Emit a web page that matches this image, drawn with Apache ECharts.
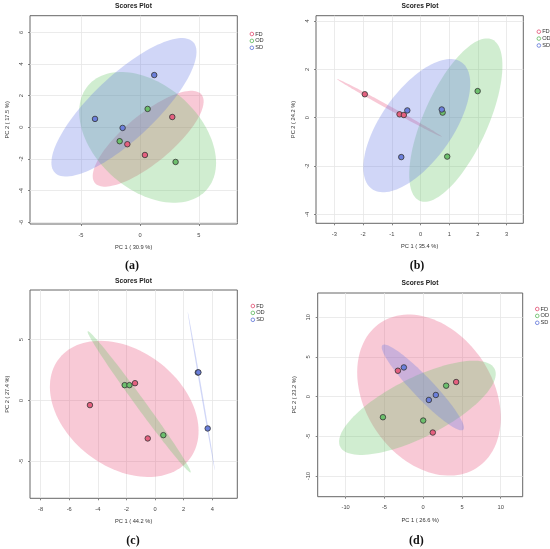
<!DOCTYPE html>
<html>
<head>
<meta charset="utf-8">
<script src="https://cdn.jsdelivr.net/npm/echarts@6/dist/echarts.min.js"></script>
<style>
html,body{margin:0;padding:0;background:#fff;}
#main{width:550px;height:549px;}
</style>
</head>
<body>
<div id="main"></div>
<script>
// ---------- data ----------
const groups = ['FD', 'OD', 'SD'];
// panel (a)
const fdA = [[2.74, 0.65], [-1.07, -1.07], [0.42, -1.75]];
const odA = [[0.65, 1.16], [-1.72, -0.88], [3.02, -2.19]];
const sdA = [[1.21, 3.30], [-3.81, 0.53], [-1.47, -0.04]];
// panel (b)
const fdB = [[-1.94, 0.97], [-0.73, 0.14], [-0.58, 0.11]];
const odB = [[1.99, 1.10], [0.77, 0.21], [0.93, -1.61]];
const sdB = [[-0.46, 0.30], [0.74, 0.34], [-0.67, -1.63]];
// panel (c)
const fdC = [[-4.55, -0.38], [-1.40, 1.42], [-0.51, -3.12]];
const odC = [[-2.12, 1.26], [-1.79, 1.26], [0.58, -2.85]];
const sdC = [[2.99, 2.30], [3.03, 2.31], [3.68, -2.30]];
// panel (d)
const fdD = [[-3.26, 3.26], [4.25, 1.84], [1.24, -4.52]];
const odD = [[2.96, 1.38], [-5.19, -2.59], [0.00, -3.01]];
const sdD = [[-2.49, 3.68], [0.73, -0.42], [1.63, 0.21]];

const xNames = ['PC 1 ( 30.9 %)', 'PC 1 ( 35.4 %)', 'PC 1 ( 44.2 %)', 'PC 1 ( 26.6 %)'];
const yNames = ['PC 2 ( 17.5 %)', 'PC 2 ( 24.2 %)', 'PC 2 ( 27.4 %)', 'PC 2 ( 23.2 %)'];
const xTicksA = [-5, 0, 5];
const yTicksA = [-6, -4, -2, 0, 2, 4, 6];
const xTicksB = [-3, -2, -1, 0, 1, 2, 3];
const yTicksB = [-4, -2, 0, 2, 4];
const xTicksC = [-8, -6, -4, -2, 0, 2, 4];
const yTicksC = [-5, 0, 5];
const xTicksD = [-10, -5, 0, 5, 10];
const yTicksD = [-10, -5, 0, 5, 10];
const xRangeA = [-9.32, 8.25], yRangeA = [-6.11, 7.05];
const xRangeB = [-3.64, 3.58], yRangeB = [-4.37, 4.22];
const xRangeC = [-8.74, 5.75], yRangeC = [-8.04, 9.08];
const xRangeD = [-13.6, 12.83], yRangeD = [-12.6, 13.05];
const panelTitle = 'Scores Plot';
const captions = ['(a)', '(b)', '(c)', '(d)'];

// ---------- styling / layout ----------
const FONT = 'Liberation Sans, Arial, sans-serif';
const ptColor = {FD: '#e4607f', OD: '#6cbf6c', SD: '#6b7fdb'};
const elColor = {FD: 'rgba(235,90,130,0.33)', OD: 'rgba(100,195,100,0.30)', SD: 'rgba(100,120,230,0.30)'};
const gridBox = [
  {left: 30, top: 15.7, width: 207.3, height: 208.3},
  {left: 316, top: 15.7, width: 207.3, height: 207.6},
  {left: 30, top: 290, width: 207.3, height: 208.3},
  {left: 317.7, top: 293, width: 205, height: 203.7}
];
const legendPos = [
  {left: 244.6, top: 26},
  {left: 531.6, top: 23.7},
  {left: 245.6, top: 298},
  {left: 530, top: 301}
];
const titlePos = [[133.5, 6], [420, 6], [133.5, 281], [420, 283]];
const captionPos = [[132, 266], [417, 266], [133, 540.7], [416.3, 540.7]];

const panels = [
  {d: [fdA, odA, sdA], xr: xRangeA, yr: yRangeA, xt: xTicksA, yt: yTicksA},
  {d: [fdB, odB, sdB], xr: xRangeB, yr: yRangeB, xt: xTicksB, yt: yTicksB},
  {d: [fdC, odC, sdC], xr: xRangeC, yr: yRangeC, xt: xTicksC, yt: yTicksC},
  {d: [fdD, odD, sdD], xr: xRangeD, yr: yRangeD, xt: xTicksD, yt: yTicksD}
];

// 95% confidence ellipse from the group's points (as in the original plot)
function ellipseOf(pts) {
  const n = pts.length;
  let mx = 0, my = 0;
  pts.forEach(p => { mx += p[0]; my += p[1]; });
  mx /= n; my /= n;
  let sxx = 0, syy = 0, sxy = 0;
  pts.forEach(p => {
    const dx = p[0] - mx, dy = p[1] - my;
    sxx += dx * dx; syy += dy * dy; sxy += dx * dy;
  });
  sxx /= (n - 1); syy /= (n - 1); sxy /= (n - 1);
  const tr = sxx + syy, det = sxx * syy - sxy * sxy;
  const disc = Math.sqrt(Math.max(tr * tr / 4 - det, 0));
  const l1 = tr / 2 + disc, l2 = Math.max(tr / 2 - disc, 0);
  const phi = 0.5 * Math.atan2(2 * sxy, sxx - syy);
  const t = Math.sqrt(5.991464547); // sqrt(qchisq(0.95, 2))
  const a = t * Math.sqrt(l1), b = t * Math.sqrt(l2);
  const out = [];
  for (let k = 0; k < 120; k++) {
    const th = 2 * Math.PI * k / 120;
    const c = Math.cos(th), s = Math.sin(th);
    out.push([
      mx + a * c * Math.cos(phi) - b * s * Math.sin(phi),
      my + a * c * Math.sin(phi) + b * s * Math.cos(phi)
    ]);
  }
  return {center: [mx, my], poly: out};
}

const grid = [], xAxis = [], yAxis = [], series = [], legend = [], graphic = [];
const axisText = {fontFamily: FONT, fontSize: 5.7, color: '#333'};

panels.forEach((P, i) => {
  grid.push(Object.assign({show: true, borderColor: '#666', borderWidth: 1, backgroundColor: 'transparent', containLabel: false}, gridBox[i]));
  xAxis.push({
    type: 'value', gridIndex: i, min: P.xr[0], max: P.xr[1], position: 'bottom',
    name: xNames[i], nameLocation: 'middle', nameGap: 20.5, nameTextStyle: axisText,
    axisLine: {show: false, onZero: false},
    axisTick: {show: true, length: 2, lineStyle: {color: '#666', width: 0.8}, customValues: P.xt},
    axisLabel: Object.assign({margin: 8, customValues: P.xt, showMinLabel: true, showMaxLabel: true}, axisText, {color: '#444'}),
    splitLine: {show: true, lineStyle: {color: '#e6e6e6', width: 0.8}}
  });
  yAxis.push({
    type: 'value', gridIndex: i, min: P.yr[0], max: P.yr[1], position: 'left',
    name: yNames[i], nameLocation: 'middle', nameGap: 20, nameTextStyle: axisText,
    axisLine: {show: false, onZero: false},
    axisTick: {show: true, length: 2, lineStyle: {color: '#666', width: 0.8}, customValues: P.yt},
    axisLabel: Object.assign({margin: 6, rotate: 90, customValues: P.yt, showMinLabel: true, showMaxLabel: true}, axisText, {color: '#444'}),
    splitLine: {show: true, lineStyle: {color: '#e6e6e6', width: 0.8}}
  });
  // ellipses
  groups.forEach((g, j) => {
    const el = ellipseOf(P.d[j]);
    series.push({
      type: 'custom', name: g + ' ellipse', xAxisIndex: i, yAxisIndex: i,
      clip: true, silent: true, z: 1,
      data: [el.center],
      renderItem: function (params, api) {
        return {
          type: 'polygon',
          shape: {points: el.poly.map(p => api.coord(p))},
          style: {fill: elColor[g], stroke: null}
        };
      }
    });
  });
  // points
  groups.forEach((g, j) => {
    series.push({
      type: 'scatter', name: g, xAxisIndex: i, yAxisIndex: i, z: 3,
      symbol: 'circle', symbolSize: 5.5,
      itemStyle: {color: ptColor[g], borderColor: '#333', borderWidth: 0.8, opacity: 1},
      data: P.d[j]
    });
  });
  legend.push(Object.assign({
    orient: 'vertical', selectedMode: false,
    itemWidth: 3.6, itemHeight: 3.6, itemGap: 0.9,
    textStyle: {fontFamily: FONT, fontSize: 5.7, color: '#333', padding: [0, 0, 0, -3.5], lineHeight: 5.8},
    data: groups.map(g => ({name: g, icon: 'circle', itemStyle: {color: 'rgba(0,0,0,0)', borderColor: ptColor[g], borderWidth: 0.9}}))
  }, legendPos[i]));
  graphic.push({
    type: 'text', x: titlePos[i][0], y: titlePos[i][1], silent: true,
    style: {text: panelTitle, fill: '#222', font: 'bold 6.7px ' + FONT, textAlign: 'center', textVerticalAlign: 'middle'}
  });
  graphic.push({
    type: 'text', x: captionPos[i][0], y: captionPos[i][1], silent: true,
    style: {text: captions[i], fill: '#111', font: 'bold 12px "Liberation Serif", "Times New Roman", serif', textAlign: 'center', textVerticalAlign: 'middle'}
  });
});

const chart = echarts.init(document.getElementById('main'), null, {renderer: 'canvas'});
chart.setOption({
  animation: false,
  backgroundColor: '#fff',
  grid: grid, xAxis: xAxis, yAxis: yAxis, series: series, legend: legend, graphic: graphic
});
</script>
</body>
</html>
